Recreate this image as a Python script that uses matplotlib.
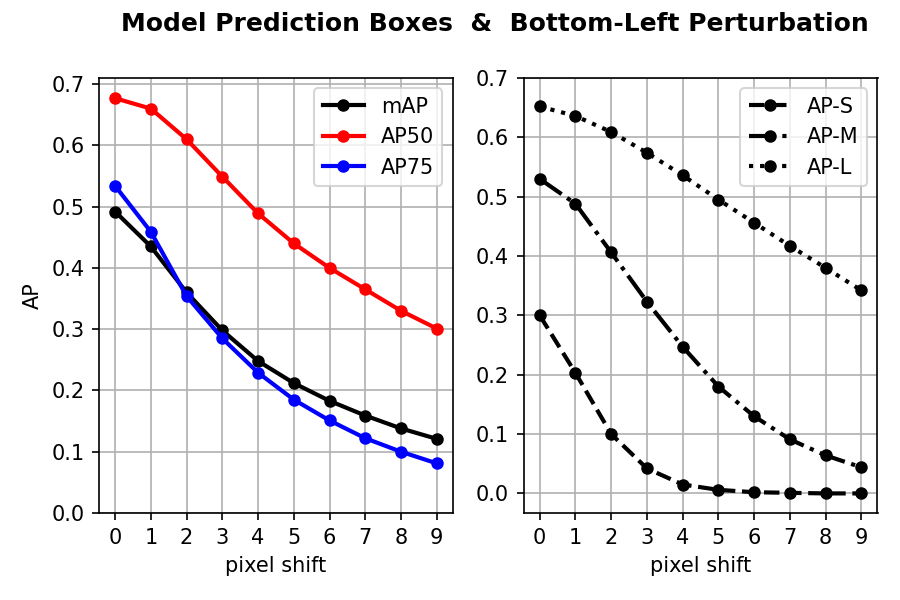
import numpy as np
import matplotlib
matplotlib.use("Agg")
import matplotlib.pyplot as plt

shifts = list(range(10))
map_vals = [0.492, 0.435, 0.360, 0.298, 0.248, 0.212, 0.183, 0.159, 0.138, 0.121]
ap50 = [0.677, 0.660, 0.610, 0.549, 0.489, 0.440, 0.400, 0.365, 0.330, 0.301]
ap75 = [0.534, 0.459, 0.354, 0.285, 0.229, 0.185, 0.151, 0.122, 0.100, 0.081]
ap_s = [0.300, 0.203, 0.100, 0.042, 0.015, 0.006, 0.002, 0.001, 0.000, 0.000]
ap_m = [0.530, 0.488, 0.406, 0.323, 0.247, 0.180, 0.130, 0.091, 0.064, 0.044]
ap_l = [0.652, 0.636, 0.609, 0.574, 0.536, 0.495, 0.456, 0.417, 0.380, 0.342]

fig, (ax1, ax2) = plt.subplots(1, 2, figsize=(6, 4), dpi=150)

ax1.plot(shifts, map_vals, "k-o", lw=2, ms=5, label="mAP")
ax1.plot(shifts, ap50, "r-o", lw=2, ms=5, label="AP50")
ax1.plot(shifts, ap75, "b-o", lw=2, ms=5, label="AP75")
ax1.set_ylim(0, 0.71)
ax1.set_ylabel("AP")
ax1.set_xlabel("pixel shift")
ax1.set_xticks(shifts)
ax1.grid(True)
ax1.legend(loc="upper right")

ax2.plot(shifts, ap_s, "k--o", lw=2, ms=5, label="AP-S")
ax2.plot(shifts, ap_m, "k-.o", lw=2, ms=5, label="AP-M")
ax2.plot(shifts, ap_l, "k:o", lw=2, ms=5, label="AP-L")
ax2.set_ylim(-0.033, 0.7)
ax2.set_xlabel("pixel shift")
ax2.set_xticks(shifts)
ax2.grid(True)
ax2.legend(loc="upper right")

fig.suptitle("Model Prediction Boxes  &  Bottom-Left Perturbation", fontweight="bold", x=0.55)
fig.subplots_adjust(left=0.11, right=0.975, bottom=0.145, top=0.87, wspace=0.2)
fig.savefig("out.png")
